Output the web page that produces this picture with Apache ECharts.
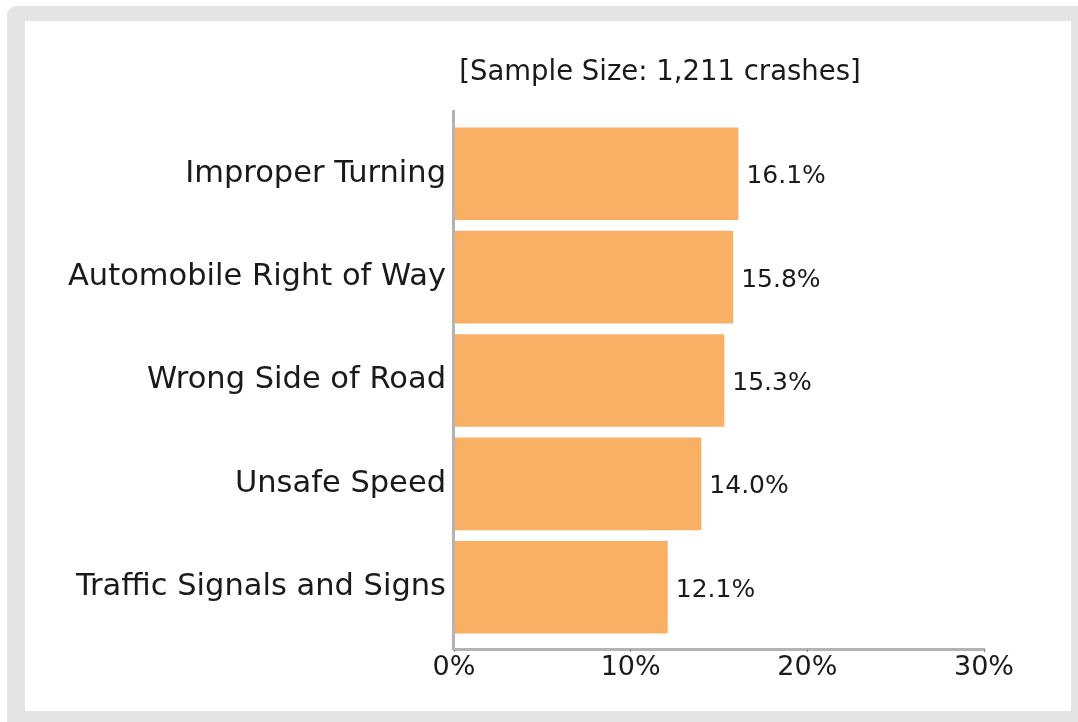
<!DOCTYPE html>
<html>
<head>
<meta charset="utf-8">
<script src="https://cdn.jsdelivr.net/npm/echarts@6/dist/echarts.min.js"></script>
<style>
  html, body { margin: 0; padding: 0; background: #ffffff; }
  #frame {
    position: absolute; left: 7px; top: 6px; width: 1090px; height: 730px;
    background: #e4e4e4; border-radius: 9px;
  }
  #panel {
    position: absolute; left: 25px; top: 21px; width: 1046px; height: 690px;
    background: #ffffff;
  }
  #chart { position: absolute; left: 0; top: 0; width: 1078px; height: 722px; }
</style>
</head>
<body>
<div id="frame"></div>
<div id="panel"></div>
<div id="chart"></div>
<script>
// Crash factors, listed top to bottom
const categories = [
  'Improper Turning',
  'Automobile Right of Way',
  'Wrong Side of Road',
  'Unsafe Speed',
  'Traffic Signals and Signs'
];
// Share of crashes, percent
const shares = [16.1, 15.8, 15.3, 14.0, 12.1];
const xTicks = [0, 10, 20, 30];
const subtitle = '[Sample Size: 1,211 crashes]';

const FONT = '"DejaVu Sans", sans-serif';
const INK = '#1a1a1a';
const AXIS_GREY = '#b3b3b3';

const chart = echarts.init(document.getElementById('chart'), null, { renderer: 'canvas' });

chart.setOption({
  backgroundColor: 'transparent',
  animation: false,
  title: {
    text: subtitle,
    left: 655,
    textAlign: 'center',
    top: 54,
    textStyle: { fontFamily: FONT, fontSize: 27.5, fontWeight: 'normal', color: INK }
  },
  grid: { left: 454, right: 94, top: 122, height: 517, containLabel: false },
  xAxis: {
    type: 'value',
    min: xTicks[0],
    max: xTicks[xTicks.length - 1],
    interval: 10,
    offset: 10,
    axisLine: { show: true, lineStyle: { color: AXIS_GREY, width: 3 } },
    axisTick: { show: true, length: 3, lineStyle: { color: '#888888', width: 1 } },
    splitLine: { show: false },
    axisLabel: {
      formatter: v => v + '%',
      fontFamily: FONT, fontSize: 27, color: INK, margin: 5
    }
  },
  yAxis: {
    type: 'category',
    inverse: true,
    data: categories,
    axisLine: { show: false },
    axisTick: { show: false },
    axisLabel: { fontFamily: FONT, fontSize: 30.5, color: INK, margin: 8 }
  },
  graphic: [{
    type: 'line',
    shape: { x1: 453.5, y1: 110, x2: 453.5, y2: 650 },
    style: { stroke: AXIS_GREY, lineWidth: 3 },
    z: 10
  }],
  series: [{
    type: 'bar',
    data: shares,
    barCategoryGap: '10.4%',
    itemStyle: { color: '#f9af64' },
    label: {
      show: true,
      position: 'right',
      distance: 8,
      offset: [0, 3],
      formatter: p => p.value.toFixed(1) + '%',
      fontFamily: FONT, fontSize: 25, color: INK
    }
  }]
});
</script>
</body>
</html>
